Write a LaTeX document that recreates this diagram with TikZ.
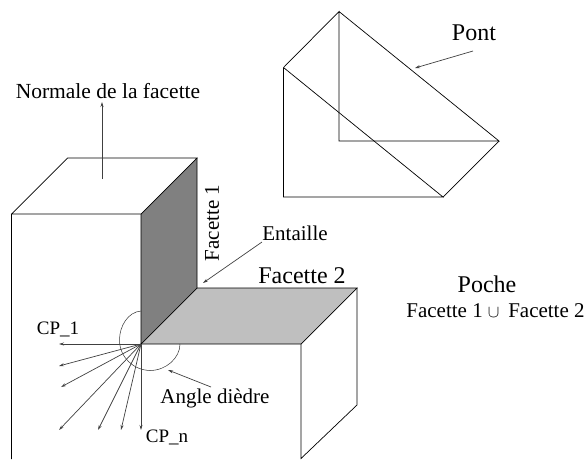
\documentclass[tikz,border=0pt]{standalone}
\usepackage{fontspec}
\setmainfont{Liberation Serif}
\usetikzlibrary{arrows.meta}
\tikzset{
  edge/.style={draw=black,line width=0.7pt},
  thin edge/.style={draw=black!80,line width=0.5pt},
  arrow/.style={draw=black!75,line width=0.7pt,-{Stealth[length=5pt,width=3pt]}},
  lbl/.style={inner sep=0pt,font=\fontsize{21}{23}\selectfont,text=black},
  big lbl/.style={lbl,font=\fontsize{24}{26}\selectfont},
  small lbl/.style={lbl,font=\fontsize{19}{21}\selectfont}
}
\begin{document}
\begin{tikzpicture}[x=1pt,y=-1pt]
\useasboundingbox (0,0) rectangle (587,459);
% block corners
\coordinate (a) at (11.5,214);
\coordinate (b) at (141,214);
\coordinate (c) at (197,158);
\coordinate (d) at (67.5,158);
\coordinate (e) at (197,288);
\coordinate (o) at (141,344);
\coordinate (f) at (357,288);
\coordinate (g) at (301,344);
\coordinate (h) at (11.5,459);
\coordinate (i) at (357,405);
\coordinate (j) at (301,458.5);
% faces
\fill[black!50] (b) -- (c) -- (e) -- (o) -- cycle;
\fill[black!25] (e) -- (f) -- (g) -- (o) -- cycle;
\draw[edge] (h) -- (a) -- (b) -- (c) -- (d) -- (a);
\draw[edge] (b) -- (o) -- (e) -- (c);
\draw[edge] (e) -- (f) -- (g) -- (o);
\draw[edge] (f) -- (i) -- (j) -- (g);
% dihedral angle arc
\draw[thin edge] (141,311) .. controls (128,312) and (119.5,326) .. (119.5,340) .. controls (119.5,357) and (133,370) .. (150,370.5) .. controls (166,370.5) and (180,358) .. (180,344);
% bridge
\coordinate (p1) at (339,11.5);
\coordinate (p2) at (283.5,67.5);
\coordinate (p3) at (339,141);
\coordinate (p4) at (499,141);
\coordinate (p5) at (283.5,197);
\coordinate (p6) at (443,197);
\draw[edge] (p2) -- (p1) -- (p3) -- (p4) -- (p1);
\draw[edge] (p2) -- (p5) -- (p6) -- (p2);
\draw[edge] (p6) -- (p4);
% texts
\node[big lbl] (pont) at (474,33) {Pont};
\coordinate (pont0) at (473,51);
\coordinate (pontend) at (415,68);
\draw[arrow] (pont0) -- (pontend);
\node[lbl,font=\fontsize{21.5}{23}\selectfont] (normale) at (108,91) {Normale de la facette};
\coordinate (n0) at (102,179);
\coordinate (n1) at (102,102);
\draw[arrow] (n0) -- (n1);
\node[lbl,rotate=90] (f1) at (212,223) {Facette 1};
\node[lbl] (entaille) at (295,233) {Entaille};
\coordinate (ent0) at (262,242);
\coordinate (ent) at (203,283);
\draw[arrow] (ent0) -- (ent);
\node[big lbl] (f2) at (302,276) {Facette 2};
\node[big lbl] (poche) at (487,284) {Poche};
\node[lbl] (union) at (495.5,311) {Facette 1 {\fontsize{19}{21}\selectfont$\cup$}\, Facette 2};
\node[small lbl] (cp1) at (58,329) {CP\_1};
\node[small lbl] (cpn) at (167,437) {CP\_n};
\node[lbl] (angle) at (215,398) {Angle dièdre};
\coordinate (ang0) at (211,387);
\coordinate (ang) at (168,370);
\draw[arrow] (ang0) -- (ang);
% CP rays
\coordinate (r1) at (59,344);
\coordinate (r2) at (59,366);
\coordinate (r3) at (61,387);
\coordinate (r4) at (59,430);
\coordinate (r5) at (98,430);
\coordinate (r6) at (121,430);
\coordinate (r7) at (141,430);
\foreach \r in {r1,r2,r3,r4,r5,r6,r7} \draw[arrow] (o) -- (\r);
\end{tikzpicture}
\end{document}
